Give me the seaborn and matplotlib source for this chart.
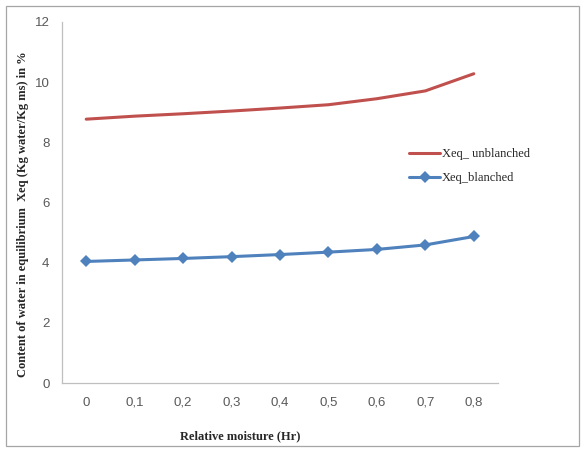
import matplotlib
matplotlib.use("Agg")
import matplotlib.pyplot as plt
import seaborn as sns
import pandas as pd
from matplotlib.patches import Rectangle

categories = ["0", "0,1", "0,2", "0,3", "0,4", "0,5", "0,6", "0,7", "0,8"]
unblanched = [8.77, 8.87, 8.95, 9.04, 9.14, 9.25, 9.45, 9.71, 10.28]
blanched = [4.04, 4.09, 4.14, 4.20, 4.27, 4.35, 4.44, 4.59, 4.87]
yticks = [0, 2, 4, 6, 8, 10, 12]

sns.set_theme(style="white")
plt.rcParams['font.family'] = ['Liberation Serif', 'DejaVu Serif']

fig = plt.figure(figsize=(5.85, 4.53), dpi=100)
ax = fig.add_axes([62/585, 70/453, 436/585, 361/453])

df = pd.DataFrame({
    "x": categories * 2,
    "y": unblanched + blanched,
    "series": ["Xeq_ unblanched"] * len(categories) + ["Xeq_blanched"] * len(categories),
})

sns.lineplot(data=df[df.series == "Xeq_ unblanched"], x="x", y="y", ax=ax,
             color="#C0504D", linewidth=2.2, sort=False, label="Xeq_ unblanched")
sns.lineplot(data=df[df.series == "Xeq_blanched"], x="x", y="y", ax=ax,
             color="#4F81BD", linewidth=2.2, marker="D", markersize=6.5,
             markeredgewidth=0, sort=False, label="Xeq_blanched")

ax.set_xlim(-0.5, 8.5)
ax.set_ylim(0, 12)
ax.set_yticks(yticks)
ax.set_yticklabels([str(t) for t in yticks])

for s in ["top", "right"]:
    ax.spines[s].set_visible(False)
for s in ["left", "bottom"]:
    ax.spines[s].set_color("#BFBFBF")
    ax.spines[s].set_linewidth(0.9)

ax.tick_params(axis="both", length=0, labelsize=9.5, labelcolor="#595959")
for lab in ax.get_xticklabels() + ax.get_yticklabels():
    lab.set_family(['Liberation Sans', 'DejaVu Sans'])
ax.tick_params(axis="y", pad=9)
ax.tick_params(axis="x", pad=10)

ax.set_xlabel("Relative moisture (Hr)", fontsize=9, fontweight="bold")
ax.set_ylabel("Content of water in equilibrium  Xeq (Kg water/Kg ms) in %",
              fontsize=9, fontweight="bold")
ax.xaxis.set_label_coords((240 - 62) / 436, -47 / 361)
ax.yaxis.set_label_coords(-33 / 436, (383 - 214) / 361)

leg = ax.legend(loc="upper left", bbox_to_anchor=(404/585, 1 - 143/453),
                bbox_transform=fig.transFigure, frameon=False, fontsize=9,
                handlelength=2.5, handletextpad=0.1, labelspacing=0.95,
                borderaxespad=0)

fig.patches.append(Rectangle((6/585, 1 - 446/453), 573/585, 440/453,
                             transform=fig.transFigure, fill=False,
                             edgecolor="#A6A6A6", linewidth=0.9))

fig.savefig("out.png", dpi=100)
